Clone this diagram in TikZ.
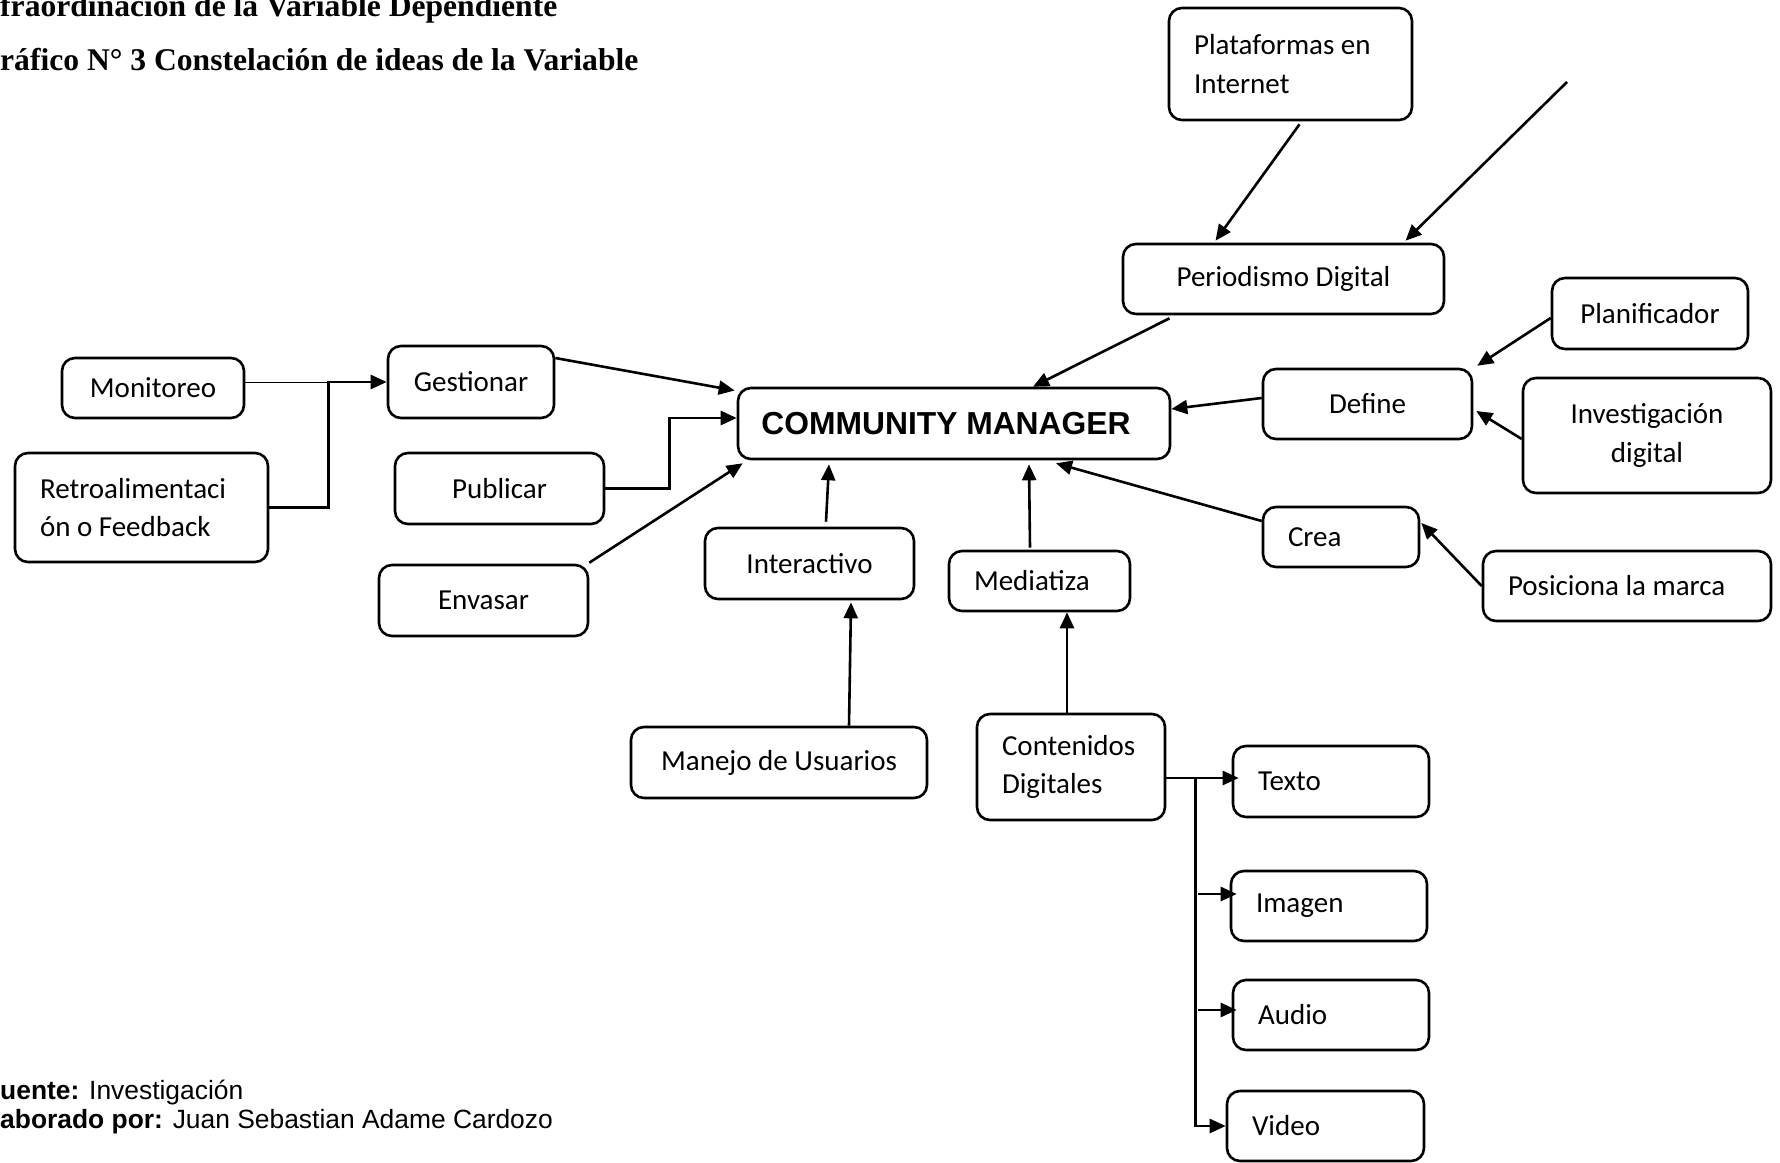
\documentclass[tikz,border=0pt]{standalone}
\usepackage{fontspec}
\setmainfont{Carlito}
\newfontfamily\arialfont{Liberation Sans}
\newfontfamily\timesfont{Liberation Serif}
\usetikzlibrary{arrows.meta,calc}
\begin{document}
\begin{tikzpicture}[x=1pt,y=-1pt,
  box/.style={draw, line width=2.6pt, rounded corners=13pt, inner xsep=0pt, inner ysep=0pt,
    align=center, font=\fontsize{29}{38.6}\selectfont},
  lbox/.style={box, align=flush left, inner xsep=25pt},
  conn/.style={line width=2.6pt, -{Triangle[length=16pt,width=14pt]}},
  fine/.style={line width=1pt},
  caption/.style={inner sep=0pt, anchor=base west},
]
\useasboundingbox (0,0) rectangle (1780,1162);
\fill[white] (0,0) rectangle (1780,1162);

% headings and credits
\node[caption, font=\timesfont\bfseries\fontsize{31.6}{38}\selectfont] (head1) at (0,16) {fraordinación de la Variable Dependiente};
\node[caption, font=\timesfont\bfseries\fontsize{31.6}{38}\selectfont] (head2) at (0,70) {ráfico N° 3 Constelación de ideas de la Variable};
\node[caption, font=\arialfont\fontsize{26.4}{30}\selectfont] (src) at (0,1099) {\textbf{uente:} Investigación};
\node[caption, font=\arialfont\fontsize{26.4}{30}\selectfont] (auth) at (0,1128) {\textbf{aborado por:} Juan Sebastian Adame Cardozo};

% central concept
\node[box, minimum width=432pt, minimum height=71pt, font=\arialfont\bfseries\fontsize{31.8}{38}\selectfont] (cm) at (954,423.5) {\hspace*{-16pt}COMMUNITY MANAGER};

% upper right branch
\node[lbox, minimum width=243pt, minimum height=112pt, text width=193pt] (plat) at (1290.5,64) {Plataformas en\\Internet};
\node[box, minimum width=321pt, minimum height=70pt] (perio) at (1283.5,279) {Periodismo Digital};
\node[box, minimum width=196pt, minimum height=71pt] (plan) at (1650,313.5) {Planificador};
\node[box, minimum width=209pt, minimum height=70pt] (define) at (1367.5,404) {Define};
\node[box, minimum width=248pt, minimum height=115pt] (invest) at (1647,435.5) {Investigación\\digital};
\node[lbox, minimum width=156pt, minimum height=60pt, text width=106pt] (crea) at (1341,537) {Crea};
\node[lbox, minimum width=288pt, minimum height=70pt, text width=238pt] (posic) at (1627,586) {Posiciona la marca};

% left branch
\node[box, minimum width=166pt, minimum height=72pt] (gest) at (471,382) {Gestionar};
\node[box, minimum width=182pt, minimum height=60pt] (moni) at (153,388) {Monitoreo};
\node[lbox, minimum width=253pt, minimum height=109pt, text width=203pt] (retro) at (141.5,507.5) {Retroalimentaci\\ón o Feedback};
\node[box, minimum width=209pt, minimum height=71pt] (publ) at (499.5,488.5) {Publicar};
\node[box, minimum width=209pt, minimum height=71pt] (envas) at (483.5,600.5) {Envasar};

% lower branch
\node[box, minimum width=209pt, minimum height=71pt] (inter) at (809.5,563.5) {Interactivo};
\node[lbox, minimum width=181pt, minimum height=60pt, text width=131pt] (media) at (1039.5,581) {Mediatiza};
\node[box, minimum width=296pt, minimum height=71pt] (manejo) at (779,762.5) {Manejo de Usuarios};
\node[lbox, minimum width=188pt, minimum height=106pt, text width=138pt] (conte) at (1071,767) {Contenidos\\Digitales};
\node[lbox, minimum width=196pt, minimum height=71pt, text width=146pt] (texto) at (1331,781.5) {Texto};
\node[lbox, minimum width=196pt, minimum height=70pt, text width=146pt] (imagen) at (1329,906) {Imagen};
\node[lbox, minimum width=196pt, minimum height=70pt, text width=146pt] (audio) at (1331,1015) {Audio};
\node[lbox, minimum width=197pt, minimum height=70pt, text width=147pt] (video) at (1325.5,1126) {Video};

% connectors, upper right
\coordinate (feed) at (1567,82);
\draw[conn] ($(plat.south)+(9,3)$) -- ($(perio.north)+(-68,-2)$);
\draw[conn] (feed) -- ($(perio.north)+(122,-2)$);
\draw[conn] ($(perio.south)+(-114,3)$) -- ($(cm.north)+(79,0)$);
\draw[conn] ($(plan.west)+(0,4.5)$) -- ($(define.north east)+(4,-2)$);
\draw[conn] ($(invest.west)+(0,3.5)$) -- ($(define.east)+(3,7)$);
\draw[conn] ($(define.west)+(0,-6)$) -- ($(cm.east)+(0,-14.5)$);
\draw[conn] ($(crea.west)+(0,-16)$) -- ($(cm.south)+(102,3)$);
\draw[conn] (posic.west) -- ($(crea.east)+(1,-14)$);

% connectors, left
\coordinate (jg) at ($(gest.west)+(-58,0)$);
\draw[fine] (moni.east |- gest.west) -- (jg);
\draw[conn] (retro.east) -| (jg) -- (gest.west);
\draw[conn] ($(gest.east)+(0,-24)$) -- ($(cm.west)+(-2,-33)$);
\draw[conn] (publ.east) -| ($(cm.west)+(-67,-5.5)$) -- ($(cm.west)+(0,-5.5)$);
\draw[conn] ($(envas.north east)+(0,-1)$) -- ($(cm.south west)+(6,3)$);

% connectors, lower
\draw[conn] ($(inter.north)+(16.5,-5)$) -- ($(cm.south)+(-125,4)$);
\draw[conn] ($(media.north)+(-9.5,-2)$) -- ($(cm.south)+(75,4)$);
\draw[conn] ($(manejo.north)+(70,0)$) -- ($(inter.south)+(41.5,2)$);
\draw[conn] ($(conte.north)+(-4,0)$) -- ($(media.south)+(27.5,0)$);

% media types
\coordinate (jc) at ($(conte.east)+(29,11)$);
\draw[conn] ($(conte.east)+(0,11)$) -- ($(jc -| texto.west)+(7,0)$);
\draw[conn] (jc) |- (video.west);
\draw[conn] ($(jc |- imagen.west)+(3,-12)$) -- ($(imagen.west)+(7,-12)$);
\draw[conn] ($(jc |- audio.west)+(3,-5)$) -- ($(audio.west)+(5,-5)$);
\end{tikzpicture}
\end{document}
